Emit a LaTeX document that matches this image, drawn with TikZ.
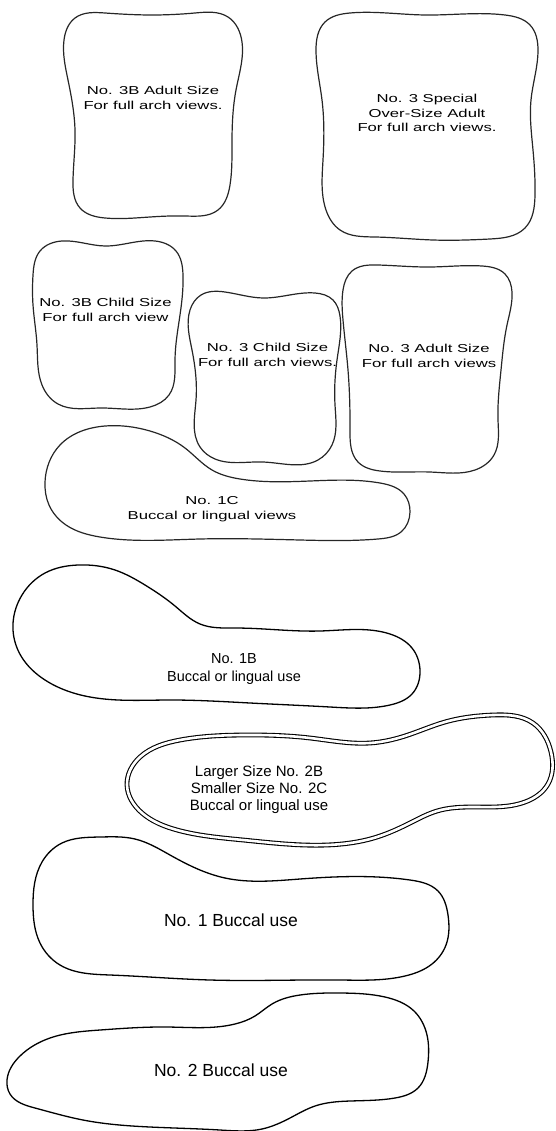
\documentclass[tikz,border=0pt]{standalone}
\usepackage{fontspec}
\usepackage{graphicx}
\usetikzlibrary{hobby}
\setmainfont{Liberation Sans}
\newfontfamily\widefont[FakeStretch=1.45]{Liberation Sans}
\begin{document}
\begin{tikzpicture}[x=1pt,y=-1pt,
  outline/.style={line width=1.2pt, line join=round, draw=black!85, use Hobby shortcut, closed=true},
  bigline/.style={line width=1.3pt, line join=round, draw=black, use Hobby shortcut, closed=true},
  smalltxt/.style={font=\widefont\fontsize{11.5}{14.8}\selectfont, align=center, inner sep=0pt},
  midtxt/.style={font=\fontsize{14.5}{18}\selectfont, align=center, inner sep=0pt},
  lgtxt/.style={font=\fontsize{15}{17}\selectfont, align=center, inner sep=0pt},
  bigtxt/.style={font=\fontsize{17.5}{20}\selectfont, align=center, inner sep=0pt}]
\useasboundingbox (0,0) rectangle (555,1131);

% No. 3B Adult Size
\draw[outline] (64,40) .. (75,18) .. (105,13) .. (150,15) .. (195,13) .. (228,17)
 .. (242,42) .. (236,90) .. (232,140) .. (230,185) .. (218,210) .. (185,216)
 .. (150,217) .. (105,218) .. (80,208) .. (73,180) .. (75,130) .. (68,80);
\node[smalltxt] (t1) at (153,97.5) {No. 3B Adult Size\\For full arch views.};

% No. 3 Special
\draw[outline] (316,50) .. (325,22) .. (350,13) .. (425,15) .. (505,15) .. (530,25)
 .. (538,50) .. (531,100) .. (533,150) .. (535,195) .. (525,228) .. (490,239)
 .. (433,240) .. (375,237) .. (340,230) .. (326,210) .. (323,160) .. (322,100);
\node[smalltxt] (t2) at (427,113) {No. 3 Special\\Over-Size Adult\\For full arch views.};

% No. 3B Child Size
\draw[outline] (33,275) .. (40,251) .. (62,241) .. (105,246) .. (155,241)
 .. (176,251) .. (183,275) .. (180,315) .. (175,360) .. (169,395)
 .. (150,407) .. (100,408) .. (58,404) .. (42,385) .. (37,345) .. (33,305);
\node[smalltxt] (t3) at (105.5,310) {No. 3B Child Size\\For full arch view};

% No. 3 Child Size
\draw[outline] (190,310) .. (201,295) .. (225,292) .. (263,298)
 .. (315,293) .. (333,300) .. (340,316) .. (337,360) .. (335,405)
 .. (332,445) .. (318,460) .. (263,462) .. (215,459) .. (200,447) .. (196,400)
 .. (192,350);
\node[smalltxt] (t4) at (267.5,354.5) {No. 3 Child Size\\For full arch views.};

% No. 3 Adult Size
\draw[outline] (343,290) .. (352,271) .. (378,265) .. (430,267) .. (482,266)
 .. (505,274) .. (512,292) .. (507,325) .. (501,370) .. (498,420) .. (494,455)
 .. (475,470) .. (430,472) .. (380,471) .. (358,462) .. (350,430) .. (348,370)
 .. (343,320);
\node[smalltxt] (t5) at (429,355.5) {No. 3 Adult Size\\For full arch views};

% No. 1C
\draw[outline] (45,482) .. (60,445) .. (105,426) .. (150,431) .. (185,448)
 .. (212,470) .. (240,479) .. (310,481) .. (380,483) .. (404,494) .. (410,512)
 .. (401,532) .. (378,539) .. (300,540) .. (200,539) .. (100,537) .. (66,525)
 .. (49,505);
\node[smalltxt] (t6) at (212,509.5) {No. 1C\\Buccal or lingual views};

% No. 1B
\draw[bigline] (13,630) .. (22,595) .. (45,573) .. (78,565) .. (115,570)
 .. (145,585) .. (175,606) .. (200,624) .. (235,628) .. (320,631) .. (390,634)
 .. (412,648) .. (420,670) .. (412,694) .. (390,705) .. (330,707) .. (250,703)
 .. (170,700) .. (90,697) .. (45,680) .. (21,656);
\node[midtxt] (t7) at (234,669) {No. 1B\\Buccal or lingual use};

% No. 2B / 2C (double outline)
\draw[line width=1.1pt, double distance=2.6pt, line join=round, use Hobby shortcut, closed=true]
 (127,785) .. (140,757) .. (180,740) .. (243,735) .. (310,738) .. (370,743)
 .. (405,736) .. (445,722) .. (493,715) .. (533,723) .. (551,752) .. (548,784)
 .. (525,802) .. (475,807) .. (437,811) .. (410,823) .. (377,837) .. (327,845)
 .. (243,840) .. (177,830) .. (142,813);
\node[lgtxt] (t8) at (259,790) {Larger Size No. 2B\\Smaller Size No. 2C\\Buccal or lingual use};

% No. 1 Buccal use
\draw[bigline] (33,905) .. (42,862) .. (62,843) .. (100,837) .. (135,839)
 .. (170,855) .. (200,870) .. (225,878) .. (300,879) .. (410,880) .. (438,891)
 .. (448,915) .. (446,945) .. (432,964) .. (405,976) .. (340,980) .. (210,980)
 .. (110,975) .. (60,965) .. (40,943);
\node[bigtxt] (t9) at (231,920) {No. 1 Buccal use};

% No. 2 Buccal use
\draw[bigline] (7,1080) .. (20,1056) .. (50,1038) .. (100,1030) .. (167,1027)
 .. (235,1024) .. (255,1016) .. (272,1004) .. (300,995) .. (340,993) .. (385,997)
 .. (414,1011) .. (427,1035) .. (428,1062) .. (418,1088) .. (395,1098) .. (350,1101)
 .. (315,1106) .. (290,1118) .. (262,1129) .. (220,1130) .. (150,1127) .. (83,1120)
 .. (35,1108) .. (10,1094);
\node[bigtxt] (t10) at (221,1070) {No. 2 Buccal use};
\end{tikzpicture}
\end{document}
